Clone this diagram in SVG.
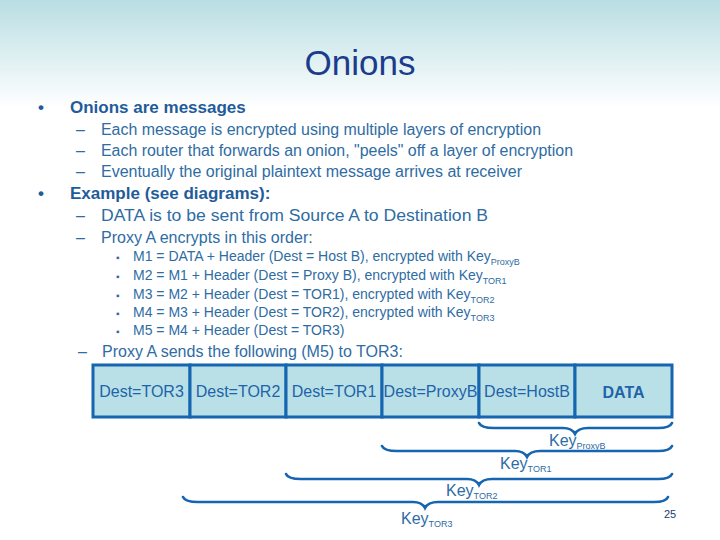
<svg xmlns="http://www.w3.org/2000/svg" width="720" height="540" viewBox="0 0 720 540">
<defs>
<linearGradient id="bg" x1="0" y1="0" x2="0" y2="1">
<stop offset="0" stop-color="#b9dee3"/>
<stop offset="0.2" stop-color="#ffffff"/>
<stop offset="1" stop-color="#ffffff"/>
</linearGradient>
<style>
text{font-family:"Liberation Sans",Arial,sans-serif}
.title{font-size:35px;fill:#1b3c8c}
.h{font-size:17px;font-weight:bold;fill:#1f5c9a}
.b{font-size:16px;fill:#2e6ca3}
.s{font-size:14px;fill:#2e6ca3}
.sq{font-size:10px;fill:#2e6ca3}
.cell{fill:#b9e0e7;stroke:#1565b0;stroke-width:3}
.ct{font-size:16px;fill:#1f63a8;text-anchor:middle}
.brace{fill:none;stroke:#1565b0;stroke-width:2.6;stroke-linecap:round}
.key{font-size:16px;fill:#2e6ca3}
.sub{font-size:9px}
</style>
</defs>
<rect width="720" height="540" fill="url(#bg)"/>
<text class="title" x="360" y="75" text-anchor="middle">Onions</text>
<g id="text">
<text class="h" x="38" y="113" font-weight="normal">•</text>
<text class="h" x="70" y="113">Onions are messages</text>
<text class="b" x="76" y="135">–</text>
<text class="b" x="101" y="135" textLength="440" lengthAdjust="spacingAndGlyphs">Each message is encrypted using multiple layers of encryption</text>
<text class="b" x="76" y="156">–</text>
<text class="b" x="101" y="156" textLength="472" lengthAdjust="spacingAndGlyphs">Each router that forwards an onion, "peels" off a layer of encryption</text>
<text class="b" x="76" y="177">–</text>
<text class="b" x="101" y="177" textLength="421" lengthAdjust="spacingAndGlyphs">Eventually the original plaintext message arrives at receiver</text>
<text class="h" x="38" y="199" font-weight="normal">•</text>
<text class="h" x="70" y="199">Example (see diagrams):</text>
<text class="b" x="76" y="221">–</text>
<text class="b" x="101" y="221" textLength="387" lengthAdjust="spacingAndGlyphs">DATA is to be sent from Source A to Destination B</text>
<text class="b" x="76" y="243">–</text>
<text class="b" x="101" y="243">Proxy A encrypts in this order:</text>
<text class="sq" x="116" y="261">▪</text>
<text class="s" x="133" y="261">M1 = DATA + Header (Dest = Host B), encrypted with Key<tspan class="sub" dy="4">ProxyB</tspan></text>
<text class="sq" x="116" y="280">▪</text>
<text class="s" x="133" y="280">M2 = M1 + Header (Dest = Proxy B), encrypted with Key<tspan class="sub" dy="4">TOR1</tspan></text>
<text class="sq" x="116" y="299">▪</text>
<text class="s" x="133" y="299">M3 = M2 + Header (Dest = TOR1), encrypted with Key<tspan class="sub" dy="4">TOR2</tspan></text>
<text class="sq" x="116" y="317">▪</text>
<text class="s" x="133" y="317">M4 = M3 + Header (Dest = TOR2), encrypted with Key<tspan class="sub" dy="4">TOR3</tspan></text>
<text class="sq" x="116" y="335">▪</text>
<text class="s" x="133" y="335">M5 = M4 + Header (Dest = TOR3)</text>
<text class="b" x="78" y="357">–</text>
<text class="b" x="102" y="357">Proxy A sends the following (M5) to TOR3:</text>
</g>
<g id="packet">
<g id="c1"><rect class="cell" x="93" y="365" width="97" height="52"/><text class="ct" x="141.5" y="397">Dest=TOR3</text></g>
<g id="c2"><rect class="cell" x="190" y="365" width="96" height="52"/><text class="ct" x="238" y="397">Dest=TOR2</text></g>
<g id="c3"><rect class="cell" x="286" y="365" width="96" height="52"/><text class="ct" x="334" y="397">Dest=TOR1</text></g>
<g id="c4"><rect class="cell" x="382" y="365" width="97" height="52"/><text class="ct" x="430.5" y="397">Dest=ProxyB</text></g>
<g id="c5"><rect class="cell" x="479" y="365" width="96" height="52"/><text class="ct" x="527" y="397">Dest=HostB</text></g>
<g id="c6"><rect class="cell" x="575" y="365" width="97" height="52"/><text class="ct" x="623.5" y="398" font-weight="bold">DATA</text></g>
</g>
<g id="connectors">
<path class="brace" d="M479,423 Q481,428 494,428 L563,428 Q572,428 575,434 Q578,428 588,428 L658,428 Q670,428 672,423"/>
<path class="brace" d="M382,446 Q384,451 397,451 L515,451 Q524,451 527,457 Q530,451 540,451 L658,451 Q670,451 672,446"/>
<path class="brace" d="M286,474 Q288,479 301,479 L467,479 Q476,479 479,485 Q482,479 492,479 L658,479 Q670,479 672,474"/>
<path class="brace" d="M183,497 Q185,502 198,502 L413,502 Q422,502 425,508 Q428,502 438,502 L654,502 Q666,502 668,497"/>
</g>
<g id="keys">
<text class="key" x="549" y="446">Key<tspan class="sub" dy="3">ProxyB</tspan></text>
<text class="key" x="500" y="469">Key<tspan class="sub" dy="3">TOR1</tspan></text>
<text class="key" x="446" y="496">Key<tspan class="sub" dy="3">TOR2</tspan></text>
<text class="key" x="401" y="524">Key<tspan class="sub" dy="3">TOR3</tspan></text>
</g>
<text x="670" y="518" font-size="11" fill="#1b3c6c" text-anchor="middle">25</text>
</svg>
